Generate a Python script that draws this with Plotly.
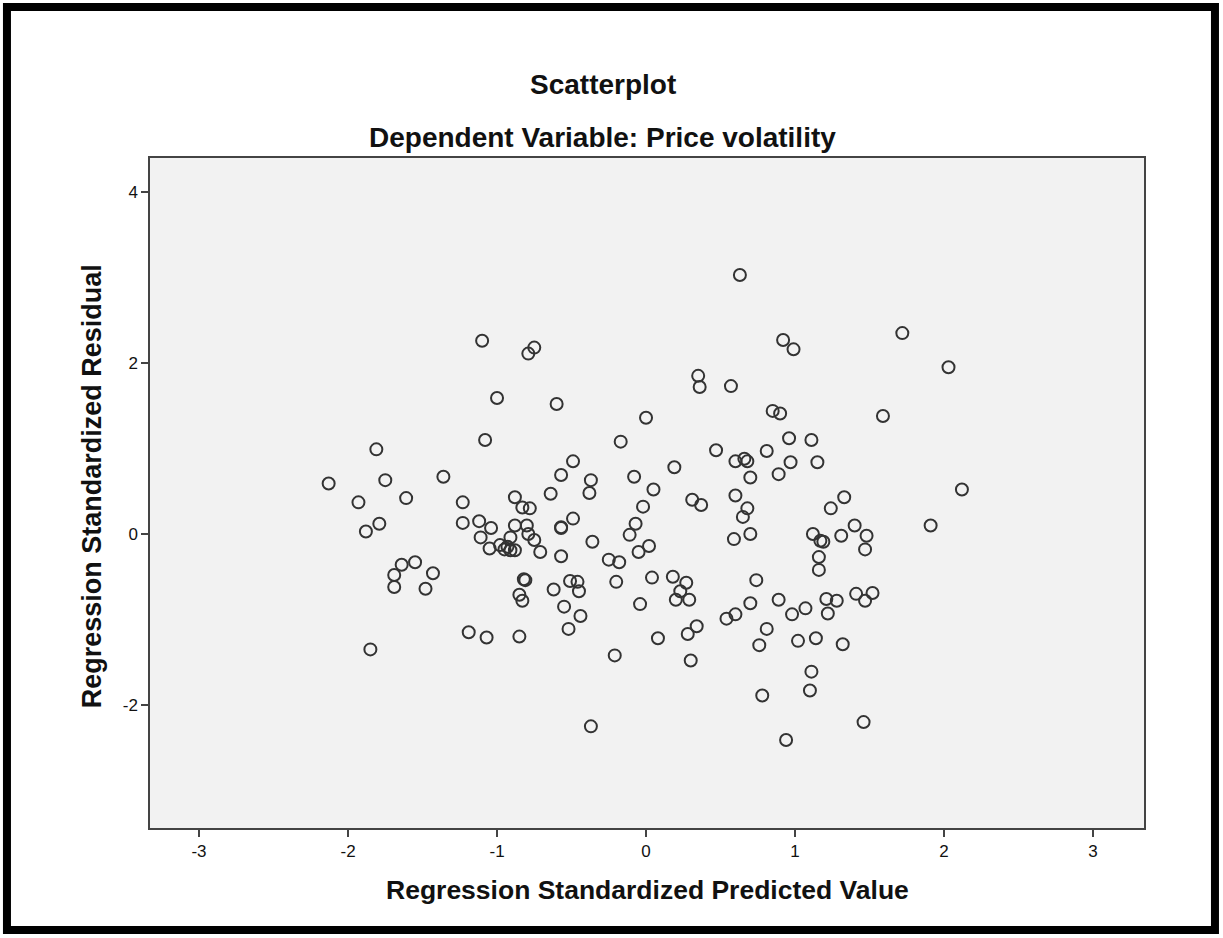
import plotly.graph_objects as go

# Regression standardized predicted values (x) and residuals (y)
pred = [
    0.63, -1.10, -0.79, -0.75, 0.35, 0.36, 0.57, -1.00, -0.60, 0.00,
    0.92, 0.99, 1.72, 2.03, 0.85, 0.90, 1.59,
    -1.08, -0.17, -1.81, -0.49, -0.57, -0.08, -2.13, -1.75, -1.36, -0.37,
    -0.38, -0.64, 0.05, -1.93, -1.61, -1.23, -0.88, -0.83, -0.78, -0.02,
    -1.23, -1.12, -1.04, -0.88, -0.80, -0.57, -0.57, -0.49, -0.07, -1.79,
    -1.88, -1.11, -0.91, -0.79, -0.75, -0.11, -1.05, -0.98, -0.95, -0.93,
    -0.91, -0.88, -0.71, -0.57, -0.36, -0.05, 0.02, -1.64, -1.55, -1.69,
    -1.43, -1.69, -1.48, -0.82, -0.81, -0.51, -0.46, -0.25, -0.18, 0.04,
    -0.85, -0.83, -0.62, -0.45, -0.20, -0.55, -0.44, -0.04, -1.19, -1.07,
    -0.85, -0.52, -1.85, -0.21,
    0.96, 1.11, 0.47, 0.60, 0.66, 0.68, 0.81, 0.97, 1.15, 0.19,
    0.70, 0.89, 2.12, 0.31, 0.37, 0.60, 0.68, 0.65, 1.33, 1.24,
    0.59, 0.70, 1.12, 1.17, 1.19, 1.31, 1.40, 1.48, 1.47, 1.91,
    1.16, 1.16, 0.18, 0.27, 0.23, 0.20, 0.29, 0.74, 0.70, 0.89,
    0.60, 0.54, 0.98, 1.07, 1.21, 1.28, 1.22, 1.41, 1.52, 1.47,
    0.34, 0.28, 0.08, 0.81, 0.76, 1.02, 1.14, 1.32, 0.30, 1.11,
    1.10, 0.78, -0.37, 1.46, 0.94,
]
resid = [
    3.03, 2.26, 2.11, 2.18, 1.85, 1.72, 1.73, 1.59, 1.52, 1.36,
    2.27, 2.16, 2.35, 1.95, 1.44, 1.41, 1.38,
    1.10, 1.08, 0.99, 0.85, 0.69, 0.67, 0.59, 0.63, 0.67, 0.63,
    0.48, 0.47, 0.52, 0.37, 0.42, 0.37, 0.43, 0.31, 0.30, 0.32,
    0.13, 0.15, 0.07, 0.10, 0.10, 0.08, 0.07, 0.18, 0.12, 0.12,
    0.03, -0.04, -0.04, 0.00, -0.07, -0.01, -0.17, -0.13, -0.18, -0.15,
    -0.19, -0.19, -0.21, -0.26, -0.09, -0.21, -0.14, -0.36, -0.33, -0.48,
    -0.46, -0.62, -0.64, -0.53, -0.54, -0.55, -0.56, -0.30, -0.33, -0.51,
    -0.71, -0.78, -0.65, -0.67, -0.56, -0.85, -0.96, -0.82, -1.15, -1.21,
    -1.20, -1.11, -1.35, -1.42,
    1.12, 1.10, 0.98, 0.85, 0.88, 0.85, 0.97, 0.84, 0.84, 0.78,
    0.66, 0.70, 0.52, 0.40, 0.34, 0.45, 0.30, 0.20, 0.43, 0.30,
    -0.06, 0.00, 0.00, -0.08, -0.09, -0.02, 0.10, -0.02, -0.18, 0.10,
    -0.27, -0.42, -0.50, -0.57, -0.67, -0.77, -0.77, -0.54, -0.81, -0.77,
    -0.94, -0.99, -0.94, -0.87, -0.76, -0.78, -0.93, -0.70, -0.69, -0.78,
    -1.08, -1.17, -1.22, -1.11, -1.30, -1.25, -1.22, -1.29, -1.48, -1.61,
    -1.83, -1.89, -2.25, -2.20, -2.41,
]

x_ticks = [-3, -2, -1, 0, 1, 2, 3]
x_tick_labels = ["-3", "-2", "-1", "0", "1", "2", "3"]
y_ticks = [-2, 0, 2, 4]
y_tick_labels = ["-2", "0", "2", "4"]

FONT = "Liberation Sans, Arial, sans-serif"

fig = go.Figure()
fig.add_trace(go.Scatter(
    x=pred, y=resid, mode="markers",
    marker=dict(symbol="circle-open", size=12, color="#333333",
                line=dict(width=2, color="#333333")),
    showlegend=False, hoverinfo="x+y",
))

axis_common = dict(
    showgrid=False, zeroline=False, showline=True, mirror=True,
    linecolor="#444444", linewidth=1.5,
    ticks="outside", ticklen=7, tickwidth=1.5, tickcolor="#444444",
    tickfont=dict(family=FONT, size=17, color="#111111"),
)

fig.update_layout(
    width=1223, height=938,
    margin=dict(l=150, r=79, t=158, b=110),
    paper_bgcolor="white", plot_bgcolor="#f2f2f2",
    xaxis=dict(range=[-3.329, 3.342], tickvals=x_ticks, ticktext=x_tick_labels,
               **axis_common),
    yaxis=dict(range=[-3.439, 4.398], tickvals=y_ticks, ticktext=y_tick_labels,
               **axis_common),
    font=dict(family=FONT),
    annotations=[
        dict(text="<b>Scatterplot</b>", xref="paper", yref="paper",
             x=0.4557, y=1.109, xanchor="center", yanchor="middle",
             showarrow=False, font=dict(family=FONT, size=28, color="#111111")),
        dict(text="<b>Dependent Variable: Price volatility</b>", xref="paper", yref="paper",
             x=0.4557, y=1.03, xanchor="center", yanchor="middle",
             showarrow=False, font=dict(family=FONT, size=28, color="#111111")),
        dict(text="<b>Regression Standardized Predicted Value</b>", xref="paper", yref="paper",
             x=0.5, y=-0.093, xanchor="center", yanchor="middle",
             showarrow=False, font=dict(family=FONT, size=26.5, color="#111111")),
        dict(text="<b>Regression Standardized Residual</b>", xref="paper", yref="paper",
             x=-0.0584, y=0.51, xanchor="center", yanchor="middle", textangle=-90,
             showarrow=False, font=dict(family=FONT, size=27, color="#111111")),
    ],
    shapes=[
        dict(type="rect", xref="paper", yref="paper",
             x0=-0.1439, x1=1.0714, y0=-0.1522, y1=1.2254,
             line=dict(color="black", width=8), fillcolor="rgba(0,0,0,0)",
             layer="above"),
    ],
)

fig.write_html("out.html",
               config={"displayModeBar": False},
               post_script="document.body.style.margin='0';document.body.style.overflow='hidden';")
